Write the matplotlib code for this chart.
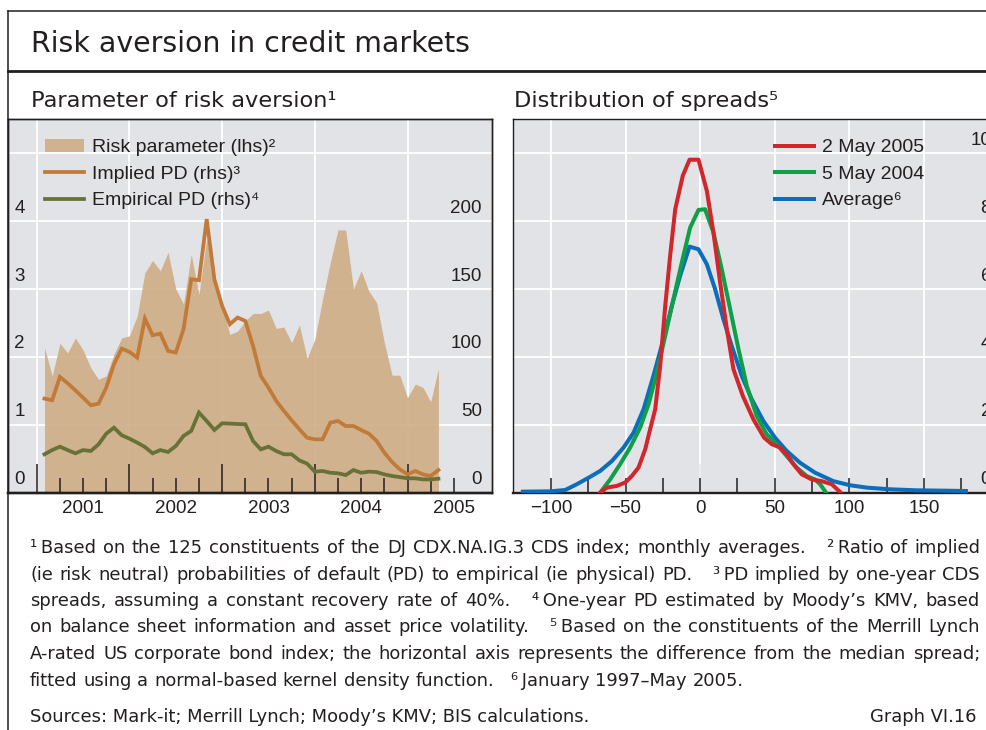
import numpy as np
import matplotlib.pyplot as plt
from matplotlib.lines import Line2D
from matplotlib.transforms import ScaledTranslation

plt.rcParams['font.family'] = ['Liberation Sans', 'DejaVu Sans']

W, H, DPI = 986, 730, 100

# --- left panel: monthly values, Feb 2001 - May 2005 ---
risk_param = [2.14, 1.72, 2.20, 2.06, 2.28, 2.10, 1.84, 1.67, 1.72, 2.04, 2.28, 2.31,
              2.60, 3.24, 3.42, 3.27, 3.54, 3.00, 2.78, 3.51, 2.92, 3.75, 3.14, 2.75,
              2.33, 2.38, 2.53, 2.64, 2.64, 2.69, 2.42, 2.44, 2.21, 2.47, 1.98, 2.26,
              2.85, 3.39, 3.87, 3.87, 3.00, 3.27, 2.97, 2.80, 2.21, 1.73, 1.73, 1.40,
              1.60, 1.55, 1.34, 1.83]
implied_pd = [69.3, 68.1, 85.3, 80.6, 75.4, 70.0, 64.4, 65.6, 77.4, 94.6, 106.1, 103.7,
              99.5, 128.3, 116.0, 117.2, 104.4, 103.2, 120.4, 157.2, 156.5, 201.5, 157.2, 137.6,
              124.1, 129.0, 126.5, 108.1, 86.0, 77.4, 67.6, 60.2, 53.3, 46.7, 40.5, 39.3,
              39.3, 51.6, 52.8, 49.1, 49.1, 46.2, 43.5, 38.1, 29.5, 22.6, 17.2, 13.5,
              16.0, 13.5, 12.3, 16.7]
empirical_pd = [28.3, 31.4, 33.9, 31.4, 29.0, 31.4, 30.7, 35.6, 43.5, 47.9, 42.3, 39.8,
                36.9, 33.7, 29.0, 31.4, 30.0, 34.4, 41.8, 45.5, 59.0, 52.8, 46.2, 51.1,
                50.9, 50.6, 50.4, 38.1, 31.9, 33.9, 30.7, 28.3, 28.3, 23.8, 21.4, 15.5,
                16.0, 14.7, 14.3, 13.0, 16.7, 14.7, 15.5, 15.2, 13.5, 12.3, 11.5, 10.6,
                10.6, 9.8, 9.8, 10.3]
months = 2001 + np.arange(1, len(risk_param) + 1) / 12
years = [2001, 2002, 2003, 2004, 2005]

# --- right panel: kernel densities of spread deviations ---
may05_x = [-67, -62.5, -55.8, -50.2, -45.8, -41.3, -36.8, -33.5, -30.1, -26.8, -23.4, -20.1,
           -16.7, -11.6, -7.1, -1.1, 4.5, 8.9, 13.4, 17.9, 22.3, 28.6, 35.7, 42.9, 48.0,
           53.6, 58.0, 62.5, 68.1, 74.8, 81.5, 88.2, 93.8]
may05_y = [0.0, 0.15, 0.2, 0.3, 0.49, 0.74, 1.28, 1.87, 2.46, 3.73, 5.50, 6.98,
           8.35, 9.34, 9.81, 9.81, 8.89, 7.67, 6.19, 4.82, 3.64, 2.85, 2.16, 1.62, 1.43,
           1.33, 1.13, 0.84, 0.54, 0.39, 0.34, 0.25, 0.02]
may04_x = [-67, -60.3, -53.6, -46.9, -40.2, -34.6, -29.0, -23.4, -17.9, -12.3, -6.7, -1.1,
           3.3, 8.9, 14.5, 20.1, 25.7, 31.3, 37.9, 44.6, 51.3, 58.0, 64.7, 71.4, 77.0,
           80.4, 84.4]
may04_y = [0.0, 0.39, 0.84, 1.33, 1.92, 2.60, 3.54, 4.62, 5.70, 6.78, 7.81, 8.33,
           8.35, 7.67, 6.58, 5.41, 4.23, 3.14, 2.26, 1.72, 1.43, 1.08, 0.74, 0.49, 0.39,
           0.25, 0.0]
avg_x = [-118.8, -100.4, -90.4, -82.6, -74.8, -67.0, -59.2, -51.3, -44.6, -37.9, -31.3,
         -24.6, -19.0, -13.4, -7.1, -1.1, 4.5, 10.0, 15.6, 21.2, 27.9, 34.6, 42.4, 50.2,
         58.0, 67.0, 77.0, 89.3, 100.4, 111.6, 127.2, 145.1, 162.9, 178.1]
avg_y = [0.03, 0.04, 0.08, 0.25, 0.44, 0.64, 0.93, 1.33, 1.77, 2.46, 3.44,
         4.52, 5.50, 6.39, 7.25, 7.17, 6.73, 6.0, 5.11, 4.32, 3.44, 2.75, 2.11, 1.62,
         1.23, 0.88, 0.59, 0.34, 0.22, 0.15, 0.10, 0.07, 0.06, 0.05]

bg = '#E2E3E7'
dark = '#231F20'
tan = '#CFAD85'
orange = '#C27A38'
olive = '#677238'
wide = ['DejaVu Sans']


def fx(px):
    return px / W


def fy(py):
    return 1 - py / H


def lift(labels, px):
    # tick labels sit just above their gridline
    for lab in labels:
        lab.set_transform(lab.get_transform() + ScaledTranslation(0, px / DPI, fig.dpi_scale_trans))


fig = plt.figure(figsize=(W / DPI, H / DPI), dpi=DPI)

# frame and headings
for xs, ys, lw in [([8, 986], [10.7, 10.7], 1.1), ([8, 8], [10.7, 730], 1.1), ([8, 986], [70.7, 70.7], 2.0)]:
    fig.add_artist(Line2D([fx(x) for x in xs], [fy(y) for y in ys], color=dark, lw=lw,
                          transform=fig.transFigure))
fig.text(fx(31), fy(52), 'Risk aversion in credit markets', fontsize=20.4, va='baseline',
         color=dark, family=wide)
fig.text(fx(31), fy(107), 'Parameter of risk aversion¹', fontsize=16.2, va='baseline',
         color=dark, family=wide)
fig.text(fx(514), fy(107), 'Distribution of spreads⁵', fontsize=16.2, va='baseline',
         color=dark, family=wide)

top, bot = 119.3, 492.7
ax1 = fig.add_axes([fx(8), fy(bot), (491.7 - 8) / W, (bot - top) / H])
ax1.set_facecolor(bg)
ax1.set_axisbelow(True)
area = ax1.fill_between(months, risk_param, 0, color=tan, alpha=0.9, lw=0, zorder=2)
ax1.set_xlim(2000.69, 2005.908)
ax1.set_ylim(0, 5.5)
ax1.set_xticks(years)
quarters = [y + q for y in range(2001, 2006) for q in (0.25, 0.5, 0.75)]
quarters = [q for q in quarters if q <= 2005.5]
ax1.set_xticks(quarters, [str(int(q)) if q % 1 == 0.5 else '' for q in quarters], minor=True)
ax1.set_yticks(range(6), ['0', '1', '2', '3', '4', ''])
ax1.grid(True, which='major', color='white', lw=1.3)
ax1.tick_params(axis='x', which='both', length=0, labelbottom=False)
ax1.tick_params(axis='y', length=0, pad=-12.2, labelsize=13.5, colors=dark)
lift(ax1.get_yticklabels(), 15)

ax1t = ax1.twinx()
ax1t.xaxis.set_visible(True)
l_imp, = ax1t.plot(months, implied_pd, color=orange, lw=2.7, solid_joinstyle='miter')
l_emp, = ax1t.plot(months, empirical_pd, color=olive, lw=2.7, solid_joinstyle='miter')
ax1t.set_ylim(0, 275)
ax1t.set_yticks(range(0, 300, 50), ['0', '50', '100', '150', '200', ''])
ax1t.tick_params(axis='y', length=0, pad=-7, labelsize=13.5, colors=dark)
for lab in ax1t.get_yticklabels():
    lab.set_horizontalalignment('right')
lift(ax1t.get_yticklabels(), 15)
ax1t.tick_params(axis='x', which='major', direction='in', length=21.2, width=1.1, color=dark,
                 labelbottom=False)
ax1t.tick_params(axis='x', which='minor', direction='in', length=10.8, width=1.1, color=dark,
                 labelsize=13.5, pad=5, labelcolor=dark)
ax1t.legend([area, l_imp, l_emp],
            ['Risk parameter (lhs)²', 'Implied PD (rhs)³', 'Empirical PD (rhs)⁴'],
            loc='upper left', bbox_to_anchor=(0.076, 0.948), frameon=False, fontsize=14,
            handlelength=2.0, handleheight=0.7, handletextpad=0.45, labelspacing=0.46,
            borderpad=0, borderaxespad=0, labelcolor=dark)

for a in (ax1, ax1t):
    for s in a.spines.values():
        s.set_color(dark)
        s.set_linewidth(1.0)
    a.spines['bottom'].set_linewidth(1.7)

# right panel
ax2 = fig.add_axes([fx(513.3), fy(bot), (998 - 513.3) / W, (bot - top) / H])
ax2.set_facecolor(bg)
ax2.plot(avg_x, avg_y, color='#0A6EBD', lw=2.9, label='Average⁶', zorder=3)
ax2.plot(may04_x, may04_y, color='#0E9F48', lw=2.9, label='5 May 2004', zorder=4)
ax2.plot(may05_x, may05_y, color='#D1262C', lw=2.9, label='2 May 2005', zorder=5)
ax2.set_xlim(-125.2, 199.6)
ax2.set_ylim(0, 11)
xt = [-100, -50, 0, 50, 100, 150]
ax2.set_xticks(xt, ['−100', '−50', '0', '50', '100', '150'])
ax2.set_xticks([-75, -25, 25, 75, 125, 175], minor=True)
ax2.set_yticks(range(0, 11, 2))
ax2.grid(True, which='major', color='white', lw=1.3, zorder=1)
ax2.tick_params(axis='x', which='both', direction='in', length=10.8, width=1.1, color=dark,
                labelsize=13.5, pad=5, labelcolor=dark)
ax2.yaxis.tick_right()
ax2.tick_params(axis='y', length=0, pad=-5, labelsize=13.5, colors=dark)
for lab in ax2.get_yticklabels():
    lab.set_horizontalalignment('right')
lift(ax2.get_yticklabels(), 15)
zero = ax2.secondary_xaxis('bottom')
zero.set_xticks([0], [''])
zero.tick_params(direction='in', length=21.2, width=1.1, color=dark)
zero.spines['bottom'].set_visible(False)
h, lbl = ax2.get_legend_handles_labels()
ax2.legend(h[::-1], lbl[::-1], loc='upper left', bbox_to_anchor=(0.54, 0.948), frameon=False,
           fontsize=14, handlelength=2.0, handletextpad=0.4, labelspacing=0.46,
           borderpad=0, borderaxespad=0, labelcolor=dark)
for s in ax2.spines.values():
    s.set_color(dark)
    s.set_linewidth(1.0)
ax2.spines['bottom'].set_linewidth(1.7)

# footnotes, justified like the printed page
notes = [
    '¹\u2009Based on the 125 constituents of the DJ CDX.NA.IG.3 CDS index; monthly averages. ²\u2009Ratio of implied',
    '(ie risk neutral) probabilities of default (PD) to empirical (ie physical) PD. ³\u2009PD implied by one-year CDS',
    'spreads, assuming a constant recovery rate of 40%. ⁴\u2009One-year PD estimated by Moody’s KMV, based',
    'on balance sheet information and asset price volatility. ⁵\u2009Based on the constituents of the Merrill Lynch',
    'A-rated US corporate bond index; the horizontal axis represents the difference from the median spread;',
    'fitted using a normal-based kernel density function. ⁶\u2009January 1997–May 2005.',
]
FS = 12.9
renderer = fig.canvas.get_renderer()
probe = fig.text(0, 0, 'a a', fontsize=FS, family=wide)
probe2 = fig.text(0, 0, 'aa', fontsize=FS, family=wide)
space_w = probe.get_window_extent(renderer).width - probe2.get_window_extent(renderer).width
probe.remove()
probe2.remove()
x0, x1 = 30, 980
for i, line in enumerate(notes):
    yb = 553 + 26.5 * i
    words = [w for w in line.split(' ') if w]
    arts = [fig.text(0, fy(yb), w, fontsize=FS, va='baseline', color=dark, family=wide)
            for w in words]
    widths = [a.get_window_extent(renderer).width for a in arts]
    weights = [3.0 if w[0] in '¹²³⁴⁵⁶' else 1 for w in words[1:]]
    if i < len(notes) - 1:
        unit = (x1 - x0 - sum(widths)) / sum(weights)
    else:
        unit = space_w
    x = x0
    for j, a in enumerate(arts):
        a.set_x(fx(x))
        if j < len(weights):
            x += widths[j] + unit * weights[j]
fig.text(fx(30), fy(722), 'Sources: Mark-it; Merrill Lynch; Moody’s KMV; BIS calculations.',
         fontsize=FS, va='baseline', color=dark, family=wide)
fig.text(fx(976), fy(722), 'Graph VI.16', fontsize=FS, va='baseline', ha='right', color=dark,
         family=wide)

fig.savefig('out.png', dpi=DPI)
